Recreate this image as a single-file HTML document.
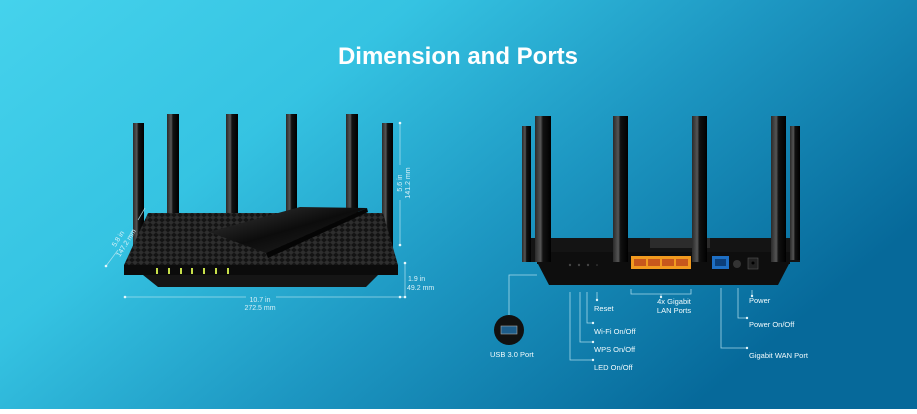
<!DOCTYPE html>
<html><head><meta charset="utf-8"><style>
html,body{margin:0;padding:0}
body{width:917px;height:409px;overflow:hidden;font-family:"Liberation Sans",sans-serif}
</style></head><body>
<svg width="917" height="409" viewBox="0 0 917 409" xmlns="http://www.w3.org/2000/svg" font-family="Liberation Sans, sans-serif">
<defs>
<linearGradient id="bg" x1="0" y1="0" x2="1" y2="0.55">
<stop offset="0" stop-color="#45d2ec"/>
<stop offset="0.35" stop-color="#35c3e2"/>
<stop offset="0.65" stop-color="#1d97c2"/>
<stop offset="1" stop-color="#06699a"/>
</linearGradient>
<linearGradient id="ant" x1="0" y1="0" x2="1" y2="0">
<stop offset="0" stop-color="#2a2a2a"/><stop offset="0.35" stop-color="#555"/><stop offset="0.5" stop-color="#111"/><stop offset="1" stop-color="#000"/>
</linearGradient>
<pattern id="grid" width="6" height="5" patternUnits="userSpaceOnUse">
<rect width="6" height="5" fill="#141414"/>
<path d="M0 2.5 L3 0 L6 2.5 L3 5Z" fill="#2e2e2e"/>
</pattern>
<linearGradient id="lid" x1="0" y1="0" x2="1" y2="1">
<stop offset="0" stop-color="#3a3a3a"/><stop offset="0.5" stop-color="#0c0c0c"/><stop offset="1" stop-color="#262626"/>
</linearGradient>
</defs>
<rect width="917" height="409" fill="url(#bg)"/>
<text x="458" y="64" font-size="24" font-weight="bold" fill="#fff" text-anchor="middle">Dimension and Ports</text>

<!-- LEFT ROUTER -->
<g fill="url(#ant)">
<rect x="133" y="123" width="11" height="125"/>
<rect x="167" y="114" width="12" height="103"/>
<rect x="226" y="114" width="12" height="103"/>
<rect x="286" y="114" width="11" height="103"/>
<rect x="346" y="114" width="12" height="103"/>
<rect x="382" y="123" width="11" height="125"/>
</g>
<polygon points="148,213 383,213 398,265 124,265" fill="url(#grid)"/>
<polygon points="209,232 300,207 367,208 266,253" fill="url(#lid)"/>
<polygon points="266,253 367,208 368,212 268,258" fill="#050505"/>
<rect x="124" y="265" width="274" height="10" fill="#0b0b0b"/>
<polygon points="143,275 378,275 366,287 158,287" fill="#151515"/>
<g fill="#c7e04a">
<rect x="156" y="268" width="2" height="6"/><rect x="168" y="268" width="2" height="6"/><rect x="180" y="268" width="2" height="6"/><rect x="191" y="268" width="2" height="6"/><rect x="203" y="268" width="2" height="6"/><rect x="215" y="268" width="2" height="6"/><rect x="227" y="268" width="2" height="6"/>
</g>
<!-- dimension lines -->
<g stroke="#bfe8f3" stroke-width="0.8" fill="none" opacity="0.8">
<line x1="400" y1="123" x2="400" y2="165"/><line x1="400" y1="200" x2="400" y2="245"/>
<line x1="405" y1="263" x2="405" y2="297"/>
<line x1="125" y1="297" x2="246" y2="297"/><line x1="276" y1="297" x2="404" y2="297"/>
<line x1="106" y1="266" x2="118" y2="250"/><line x1="138" y1="220" x2="145" y2="208"/>
</g>
<g fill="#e6f7fb"><circle cx="400" cy="123" r="1.3"/><circle cx="400" cy="245" r="1.3"/><circle cx="405" cy="263" r="1.3"/><circle cx="405" cy="297" r="1.3"/><circle cx="125" cy="297" r="1.3"/><circle cx="400" cy="297" r="1.3"/><circle cx="106" cy="266" r="1.3"/></g>
<g fill="#d9f1f8" font-size="7">
<text transform="translate(402,183) rotate(-90)" text-anchor="middle">5.6 in</text>
<text transform="translate(410,183) rotate(-90)" text-anchor="middle">141.2 mm</text>
<text transform="translate(120,240) rotate(-58)" text-anchor="middle">5.8 in</text>
<text transform="translate(128,244) rotate(-58)" text-anchor="middle">147.2 mm</text>
<text x="408" y="281">1.9 in</text>
<text x="407" y="290">49.2 mm</text>
<text x="260" y="302" text-anchor="middle">10.7 in</text>
<text x="260" y="310" text-anchor="middle">272.5 mm</text>
</g>

<!-- RIGHT ROUTER -->
<rect x="523" y="238" width="277" height="24" fill="#141414"/>
<rect x="650" y="238" width="60" height="10" fill="#2c2c2c"/>
<polygon points="537,262 790,262 778,285 549,285" fill="#0e0e0e"/>
<rect x="537" y="252" width="253" height="12" fill="#0e0e0e"/>
<g fill="url(#ant)">
<rect x="522" y="126" width="9" height="136"/>
<rect x="535" y="116" width="16" height="146"/>
<rect x="613" y="116" width="15" height="146"/>
<rect x="692" y="116" width="15" height="146"/>
<rect x="771" y="116" width="15" height="146"/>
<rect x="790" y="126" width="10" height="134"/>
</g>
<rect x="631" y="256" width="60" height="13" fill="#f39a1f"/>
<g fill="#c8571c"><rect x="634" y="259" width="12" height="7"/><rect x="648" y="259" width="12" height="7"/><rect x="662" y="259" width="12" height="7"/><rect x="676" y="259" width="12" height="7"/></g>
<rect x="712" y="256" width="17" height="13" fill="#1e6fc4"/>
<rect x="715" y="259" width="11" height="7" fill="#0c3f7a"/>
<circle cx="737" cy="264" r="4" fill="#333"/>
<rect x="748" y="258" width="10" height="11" fill="#222" stroke="#555" stroke-width="0.6"/>
<circle cx="753" cy="263" r="1.5" fill="#000"/>
<g fill="#444"><circle cx="570" cy="265" r="1.2"/><circle cx="579" cy="265" r="1.2"/><circle cx="588" cy="265" r="1.2"/><circle cx="597" cy="265" r="0.8"/></g>
<!-- leaders -->
<g stroke="#bfe8f3" stroke-width="0.8" fill="none" opacity="0.85">
<polyline points="537,275 509,275 509,316"/>
<line x1="597" y1="292" x2="597" y2="300"/>
<polyline points="587,292 587,323 593,323"/>
<polyline points="580,292 580,342 593,342"/>
<polyline points="570,292 570,360 593,360"/>
<polyline points="631,289 631,294 691,294 691,289"/>
<line x1="661" y1="294" x2="661" y2="297"/>
<line x1="752" y1="290" x2="752" y2="296"/>
<polyline points="738,288 738,318 747,318"/>
<polyline points="721,288 721,348 747,348"/>
</g>
<g fill="#e6f7fb"><circle cx="597" cy="300" r="1.2"/><circle cx="593" cy="323" r="1.2"/><circle cx="593" cy="342" r="1.2"/><circle cx="593" cy="360" r="1.2"/><circle cx="661" cy="297" r="1.2"/><circle cx="752" cy="296" r="1.2"/><circle cx="747" cy="318" r="1.2"/><circle cx="747" cy="348" r="1.2"/></g>
<circle cx="509" cy="330" r="15" fill="#111"/>
<rect x="501" y="326" width="16" height="8" fill="#1d5c8a" stroke="#aaa" stroke-width="0.6"/>
<g fill="#f2fbfd" font-size="7.5">
<text x="490" y="357">USB 3.0 Port</text>
<text x="594" y="311">Reset</text>
<text x="594" y="334">Wi-Fi On/Off</text>
<text x="594" y="352">WPS On/Off</text>
<text x="594" y="370">LED On/Off</text>
<text x="674" y="304" text-anchor="middle">4x Gigabit</text>
<text x="674" y="313" text-anchor="middle">LAN Ports</text>
<text x="749" y="303">Power</text>
<text x="749" y="327">Power On/Off</text>
<text x="749" y="358">Gigabit WAN Port</text>
</g>
</svg>
</body></html>
